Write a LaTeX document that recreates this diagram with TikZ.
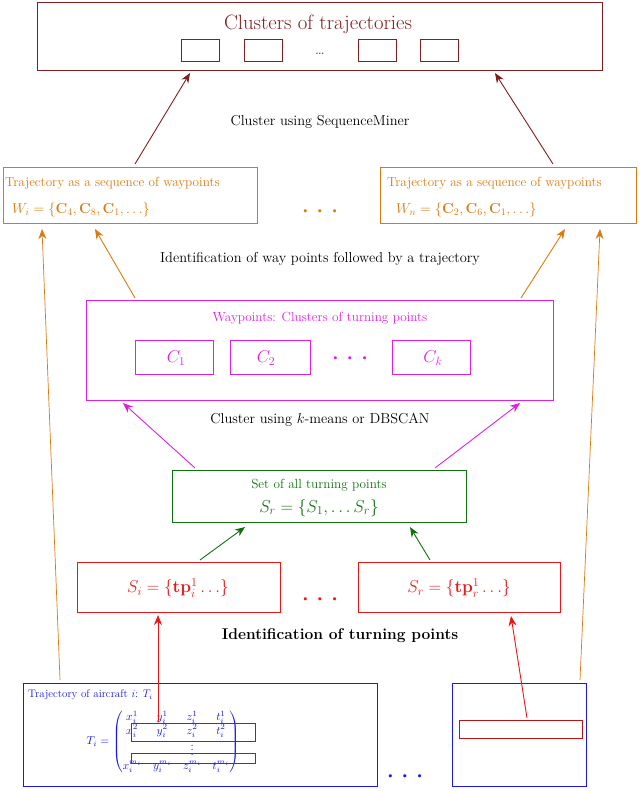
\documentclass[tikz,border=0pt]{standalone}
\usepackage{amsmath}
\usepackage{graphicx}
\usetikzlibrary{arrows.meta}
\definecolor{dred}{HTML}{7F1F1F}
\definecolor{orng}{HTML}{D97A10}
\definecolor{mag}{HTML}{E020E0}
\definecolor{grn}{HTML}{107010}
\definecolor{rd}{HTML}{E81818}
\definecolor{bl}{HTML}{1818E8}
\newcommand\myS[2]{\scalebox{#1}{#2}}
\begin{document}
\begin{tikzpicture}[x=1pt,y=-1pt,
  arr/.style={-{Stealth[length=10pt,width=8pt]},line width=0.9pt},
  lbl/.style={font=\Large},
  sm/.style={font=\large},
  dots/.style={font=\huge}]
\useasboundingbox (0,0) rectangle (640,791);
% top
\draw[dred,line width=1pt] (37,3) rectangle (602,71);
\node[dred,font=\huge] (title) at (318,24) {Clusters of trajectories};
\foreach \a/\b [count=\i] in {181/219,244/282,358/396,420/458}
  \draw[dred,line width=1pt] (\a,40) rectangle (\b,62);
\node[dred,font=\LARGE] (tdots) at (320,54) {\dots};
\node[lbl] (l1) at (320,122) {Cluster using SequenceMiner};
% orange boxes
\draw[orng,line width=1pt] (3,168) rectangle (257,224);
\draw[orng,line width=1pt] (380,168) rectangle (636,224);
\node[orng,sm,anchor=west,inner sep=0pt] (wl1) at (5,183) {\myS{1.1}{Trajectory as a sequence of waypoints}};
\node[orng,lbl,anchor=west,inner sep=0pt] (wl2) at (12,210) {$W_i=\{\mathbf{C}_4,\mathbf{C}_8,\mathbf{C}_1,\ldots\}$};
\node[orng,sm,anchor=west,inner sep=0pt] (wr1) at (387,183) {\myS{1.1}{Trajectory as a sequence of waypoints}};
\node[orng,lbl,anchor=west,inner sep=0pt] (wr2) at (396,210) {$W_n=\{\mathbf{C}_2,\mathbf{C}_6,\mathbf{C}_1,\ldots\}$};
\node[orng,dots] (odots) at (320,212) {$\boldsymbol{\cdot}\,\boldsymbol{\cdot}\,\boldsymbol{\cdot}$};
\coordinate (ol) at (135,164); \coordinate (or) at (553,164);
\coordinate (tl) at (190,73); \coordinate (tr) at (495,73);
\draw[arr,dred] (ol) -- (tl);
\draw[arr,dred] (or) -- (tr);
\node[lbl] (l2) at (320,259) {Identification of way points followed by a trajectory};
% magenta
\draw[mag,line width=1pt] (86,300) rectangle (553,400);
\node[mag,sm] (wpt) at (320,318) {\myS{1.1}{Waypoints: Clusters of turning points}};
\draw[mag,line width=1pt] (135,340) rectangle (213,374);
\draw[mag,line width=1pt] (230,340) rectangle (310,374);
\draw[mag,line width=1pt] (392,340) rectangle (470,374);
\node[mag,font=\LARGE] (c1) at (176,358) {$C_1$};
\node[mag,font=\LARGE] (c2) at (266,358) {$C_2$};
\node[mag,font=\LARGE] (ck) at (433,358) {$C_k$};
\node[mag,dots] (mdots) at (350,359) {$\boldsymbol{\cdot}\,\boldsymbol{\cdot}\,\boldsymbol{\cdot}$};
\coordinate (ml) at (135,298); \coordinate (mr) at (521,298);
\draw[arr,orng] (ml) -- (95,229);
\draw[arr,orng] (mr) -- (565,229);
\node[lbl] (l3) at (320,420) {Cluster using $k$-means or DBSCAN};
% green
\draw[grn,line width=1pt] (172,470) rectangle (466,522);
\node[grn,sm] (g1) at (319,485) {\myS{1.1}{Set of all turning points}};
\node[grn,font=\LARGE] (g2) at (319,508) {$S_r=\{S_1,\ldots S_r\}$};
\draw[arr,mag] (195,468) -- (123,403);
\draw[arr,mag] (435,468) -- (520,403);
% red
\draw[rd,line width=1pt] (77,562) rectangle (280,612);
\draw[rd,line width=1pt] (358,562) rectangle (560,612);
\node[rd,font=\LARGE] (s1) at (178,588) {$S_i=\{\mathbf{tp}_i^1\ldots\}$};
\node[rd,font=\LARGE] (s2) at (459,588) {$S_r=\{\mathbf{tp}_r^1\ldots\}$};
\node[rd,dots] (rdots) at (320,600) {$\boldsymbol{\cdot}\,\boldsymbol{\cdot}\,\boldsymbol{\cdot}$};
\draw[arr,grn] (200,560) -- (245,527);
\draw[arr,grn] (430,560) -- (410,527);
\node[font=\Large\bfseries] (l4) at (340,636) {\myS{1.08}{Identification of turning points}};
% blue
\draw[bl,line width=1pt] (23,683) rectangle (377,786);
\draw[bl,line width=1pt] (452,683) rectangle (586,786);
\node[bl,font=\large,anchor=west,inner sep=0pt] (tt) at (28,695) {\myS{0.92}{Trajectory of aircraft $i$: $T_i$}};
\node[bl,inner sep=0pt] (mat) at (163,742) {\myS{1.15}{$T_i=\begin{pmatrix} x_i^1 & y_i^1 & z_i^1 & t_i^1\\ x_i^2 & y_i^2 & z_i^2 & t_i^2\\ & & \vdots & \\ x_i^{m_i} & y_i^{m_i} & z_i^{m_i} & t_i^{m_i}\end{pmatrix}$}};
\draw[rd!80!black,line width=0.8pt] (131,723) rectangle (255,741);
\draw[rd!80!black,line width=0.8pt] (131,753) rectangle (255,763);
\draw[rd!80!black,line width=0.8pt] (459,720) rectangle (582,738);
\node[bl,dots] (bdots) at (405,777) {$\boldsymbol{\cdot}\,\boldsymbol{\cdot}\,\boldsymbol{\cdot}$};
\draw[arr,rd] (158,722) -- (158,615);
\draw[arr,rd] (527,718) -- (511,616);
\draw[arr,orng,line width=0.7pt] (60,680) -- (42,229);
\draw[arr,orng,line width=0.7pt] (580,680) -- (600,229);
\end{tikzpicture}
\end{document}
